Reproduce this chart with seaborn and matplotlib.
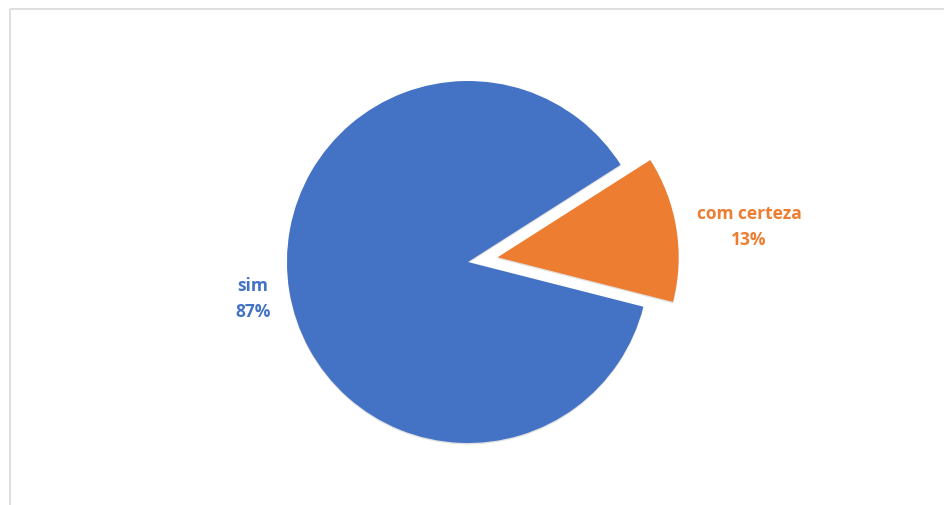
import matplotlib
matplotlib.use("Agg")
import matplotlib.pyplot as plt
import matplotlib.patheffects as pe
import seaborn as sns

categories = ["sim", "com certeza"]
values = [87, 13]
pct_labels = ["87%", "13%"]

sns.set_theme(style="white")
plt.rcParams['font.family'] = ['Open Sans', 'DejaVu Sans']
colors = ["#4472C4", "#ED7D31"]

W, H = 944, 506
fig = plt.figure(figsize=(W / 100, H / 100), dpi=100)
fig.patch.set_facecolor("white")
ax = fig.add_axes([0, 0, 1, 1])

cx, cy, r = 468, H - 263, 181
wedges, _ = ax.pie(values, colors=colors, startangle=32.5, counterclock=True,
                   explode=[0, 30], center=(cx, cy), radius=r,
                   wedgeprops=dict(linewidth=0))
for w in wedges:
    w.set_path_effects([pe.SimplePatchShadow(offset=(0, -1), shadow_rgbFace="#000000", alpha=0.12),
                        pe.Normal()])
ax.set_xlim(0, W)
ax.set_ylim(0, H)
ax.set_aspect("equal")
ax.axis("off")

# labels
ax.text(253, H - 299, f"{categories[0]}\n{pct_labels[0]}", color=colors[0], fontsize=12.5,
        fontweight="bold", ha="center", va="center", linespacing=1.55)
ax.text(749, H - 227, f"{categories[1]}\n{pct_labels[1]}", color=colors[1], fontsize=12.5,
        fontweight="bold", ha="center", va="center", linespacing=1.55)

# border of chart area
ax.plot([9.5, W], [H - 9.5, H - 9.5], color="#d9d9d9", lw=1.2, solid_capstyle="butt")
ax.plot([9.5, 9.5], [H - 9.5, 0], color="#d9d9d9", lw=1.2, solid_capstyle="butt")

fig.savefig("out.png", dpi=100, facecolor="white")
